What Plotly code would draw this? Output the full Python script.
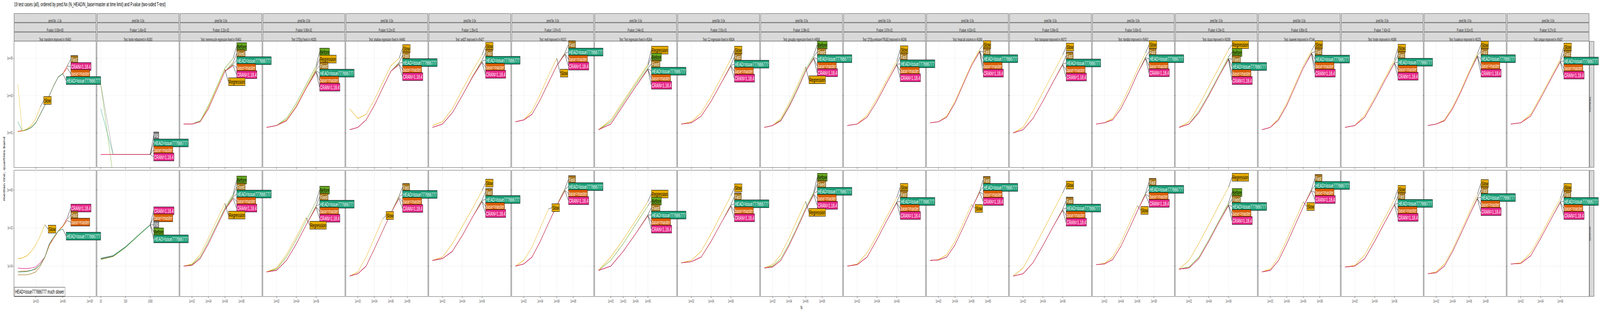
import math
import plotly.graph_objects as go
from plotly.subplots import make_subplots

TITLE = "19 test cases (all), ordered by pred.Nx (N_HEAD/N_base=master at time limit) and P.value (two-sided T-test)"

pred_nx = ["-1.3x"] + ["0.0x"] * 18
p_values = ["0.00e+00", "1.43e-02", "3.21e-02", "5.80e-02", "9.12e-02", "1.35e-01", "1.87e-01",
            "2.44e-01", "2.91e-01", "3.38e-01", "3.97e-01", "4.52e-01", "5.06e-01", "5.63e-01",
            "6.19e-01", "6.85e-01", "7.42e-01", "8.31e-01", "9.27e-01"]
tests = ["transform improved in #5493", "fwrite refactored in #6393",
         "memrecycle regression fixed in #5463", "DT[by] fixed in #4200",
         "shallow regression fixed in #4440", "setDT improved in #5427",
         "melt improved in #6101", "Test regression fixed in #5364",
         "CJ regression fixed in #5634", "groupby regression fixed in #4558",
         "DT[by,verbose=TRUE] improved in #6296", "fread all columns in #6360",
         "transpose improved in #6072", "rbindlist improved in #5463",
         "dcast improved in #6299", "isoweek improved in #7144",
         "forder improved in #4386", "fcoalesce improved in #6225",
         "unique improved in #5437"]

# N values per panel
N = [
    [10, 31.6, 100, 316, 1e3, 3.16e3, 1e4, 3.16e4, 1e5, 3.16e5, 1e6, 3.16e6],
    [10, 31.6, 100, 316, 1000],
    [10, 100, 1e3, 1e4, 1e5, 1e6, 1e7],
    [10, 100, 1e3, 1e4, 1e5, 1e6],
    [10, 100, 1e3, 1e4, 1e5, 1e6, 1e7],
    [10, 100, 1e3, 1e4, 1e5, 1e6],
    [10, 100, 1e3, 1e4, 1e5, 1e6, 1e7],
    [10, 100, 1e3, 1e4, 1e5],
    [10, 100, 1e3, 1e4, 1e5, 1e6],
    [10, 100, 1e3, 1e4, 1e5, 1e6, 1e7],
    [10, 100, 1e3, 1e4, 1e5, 1e6],
    [10, 100, 1e3, 1e4, 1e5, 1e6, 1e7],
    [10, 100, 1e3, 1e4, 1e5, 1e6],
    [10, 100, 1e3, 1e4, 1e5, 1e6, 1e7],
    [10, 100, 1e3, 1e4, 1e5, 1e6],
    [10, 100, 1e3, 1e4, 1e5, 1e6, 1e7],
    [10, 100, 1e3, 1e4, 1e5, 1e6],
    [10, 100, 1e3, 1e4, 1e5, 1e6, 1e7],
    [10, 100, 1e3, 1e4, 1e5, 1e6],
]

x_ticks = [
    [1e3, 1e6, 1e9], [10, 100, 1000], [1e2, 1e4, 1e6, 1e8], [1e2, 1e4, 1e6], [1e2, 1e4, 1e6, 1e8],
    [1e2, 1e4, 1e6], [1e2, 1e4, 1e6, 1e8], [1e2, 1e3, 1e4, 1e5], [1e2, 1e4, 1e6],
    [1e2, 1e4, 1e6, 1e8], [1e2, 1e4, 1e6], [1e2, 1e4, 1e6, 1e8], [1e2, 1e4, 1e6],
    [1e2, 1e4, 1e6, 1e8], [1e2, 1e4, 1e6], [1e2, 1e4, 1e6, 1e8], [1e2, 1e4, 1e6],
    [1e2, 1e4, 1e6, 1e8], [1e2, 1e4, 1e6],
]

kilobytes = [
    {"Fast": [12, 13, 15, 20, 35, 100, 300, 1000, 3500, 10000, 15000, 40000],
     "CRAN=1.18.4": [12, 13, 15, 20, 35, 100, 300, 1000, 3500, 10000, 15000, 38000],
     "base=master": [12, 13, 15, 20, 35, 100, 300, 1000, 3500, 10000, 15000, 30000],
     "HEAD=issue777666777": [40, 13, 15, 20, 35, 100, 300, 1000, 3500, 10000, 15000, None],
     "Slow": [4000, 13, 16, 25, 60, 250, None, None, None, None, None, None]},
    {"PR": [4000, 0.7, 0.7, 0.7, 0.7],
     "HEAD=issue777666777": [200, 0.7, 0.7, 0.7, 0.7],
     "base=master": [0.7, 0.7, 0.7, 0.7, 0.7],
     "CRAN=1.18.4": [0.7, 0.7, 0.7, 0.7, 0.7],
     "Before": [4000, 0.05, 0.05, 0.05, 0.05]},
    {"Before": [30, 30, 45, 300, 3000, 30000, 100000],
     "Regression": [30, 30, 40, 250, 2500, 25000, None],
     "Fixed": [30, 30, 40, 200, 2000, 20000, 60000],
     "HEAD=issue777666777": [30, 30, 40, 200, 2000, 20000, 50000],
     "base=master": [30, 30, 40, 200, 2000, 20000, 45000],
     "CRAN=1.18.4": [30, 30, 40, 200, 2000, 20000, 40000]},
    {"Before": [20, 25, 60, 400, 4000, 40000],
     "Regression": [20, 25, 50, 300, 3000, 30000],
     "Fixed": [20, 25, 45, 250, 2500, 25000],
     "HEAD=issue777666777": [20, 25, 45, 250, 2500, 22000],
     "base=master": [20, 25, 45, 250, 2500, 20000],
     "CRAN=1.18.4": [20, 25, 45, 250, 2500, 18000]},
    {"Slow": [200, 60, 100, 600, 5000, 40000, 100000],
     "Fast": [15, 20, 50, 300, 2500, 20000, 60000],
     "HEAD=issue777666777": [15, 20, 50, 300, 2500, 20000, 55000],
     "base=master": [15, 20, 50, 300, 2500, 20000, 50000],
     "CRAN=1.18.4": [15, 20, 50, 300, 2500, 20000, 45000]},
    {"Slow": [25, 40, 200, 2000, 20000, 150000],
     "Fast": [20, 30, 120, 1000, 10000, 80000],
     "HEAD=issue777666777": [20, 30, 120, 1000, 9000, 70000],
     "base=master": [20, 30, 120, 1000, 9000, 65000],
     "CRAN=1.18.4": [20, 30, 120, 1000, 9000, 60000]},
    {"Slow": [40, 50, 150, 1200, 12000, 100000, None],
     "Fast": [40, 50, 100, 600, 5000, 40000, 200000],
     "HEAD=issue777666777": [40, 50, 100, 600, 5000, 40000, 180000],
     "base=master": [40, 50, 100, 600, 5000, 40000, 170000],
     "CRAN=1.18.4": [40, 50, 100, 600, 5000, 40000, 160000]},
    {"Before": [15, 40, 400, 4000, 40000],
     "Regression": [15, 50, 500, 5000, 50000],
     "Fixed": [15, 30, 300, 3000, 30000],
     "HEAD=issue777666777": [15, 30, 300, 3000, 28000],
     "base=master": [15, 30, 300, 3000, 26000],
     "CRAN=1.18.4": [15, 30, 300, 3000, 25000]},
    {"Slow": [30, 40, 120, 900, 9000, 90000],
     "Fast": [30, 35, 80, 500, 4500, 45000],
     "HEAD=issue777666777": [30, 35, 80, 500, 4500, 42000],
     "base=master": [30, 35, 80, 500, 4500, 40000],
     "CRAN=1.18.4": [30, 35, 80, 500, 4500, 38000]},
    {"Before": [20, 25, 50, 300, 2500, 25000, 150000],
     "Regression": [20, 25, 60, 400, 3500, 35000, None],
     "Fixed": [20, 25, 45, 250, 2000, 20000, 120000],
     "HEAD=issue777666777": [20, 25, 45, 250, 2000, 20000, 110000],
     "base=master": [20, 25, 45, 250, 2000, 20000, 100000],
     "CRAN=1.18.4": [20, 25, 45, 250, 2000, 20000, 95000]},
    {"Slow": [25, 30, 90, 700, 7000, 70000],
     "Fast": [25, 30, 70, 500, 5000, 50000],
     "HEAD=issue777666777": [25, 30, 70, 500, 5000, 48000],
     "base=master": [25, 30, 70, 500, 5000, 46000],
     "CRAN=1.18.4": [25, 30, 70, 500, 5000, 44000]},
    {"Slow": [35, 40, 80, 500, 5000, 50000, 300000],
     "Fast": [35, 40, 70, 400, 4000, 40000, 250000],
     "HEAD=issue777666777": [35, 40, 70, 400, 4000, 40000, 240000],
     "base=master": [35, 40, 70, 400, 4000, 40000, 230000],
     "CRAN=1.18.4": [35, 40, 70, 400, 4000, 40000, 220000]},
    {"Slow": [10, 20, 150, 1500, 15000, 150000],
     "Fast": [10, 15, 60, 500, 5000, 50000],
     "HEAD=issue777666777": [10, 15, 60, 500, 5000, 48000],
     "base=master": [10, 15, 60, 500, 5000, 46000],
     "CRAN=1.18.4": [10, 15, 60, 500, 5000, 44000]},
    {"Slow": [30, 35, 60, 300, 2500, 25000, 200000],
     "Fast": [30, 35, 50, 200, 1500, 15000, 120000],
     "HEAD=issue777666777": [30, 35, 50, 200, 1500, 15000, 110000],
     "base=master": [30, 35, 50, 200, 1500, 15000, 100000],
     "CRAN=1.18.4": [30, 35, 50, 200, 1500, 15000, 95000]},
    {"Regression": [20, 40, 300, 3000, 30000, 300000],
     "Before": [20, 30, 150, 1200, 12000, 120000],
     "Fixed": [20, 30, 120, 1000, 10000, 100000],
     "HEAD=issue777666777": [20, 30, 120, 1000, 10000, 95000],
     "base=master": [20, 30, 120, 1000, 10000, 90000],
     "CRAN=1.18.4": [20, 30, 120, 1000, 10000, 85000]},
    {"Slow": [15, 20, 60, 400, 4000, 40000, 250000],
     "Fast": [15, 20, 50, 300, 3000, 30000, 200000],
     "HEAD=issue777666777": [15, 20, 50, 300, 3000, 30000, 190000],
     "base=master": [15, 20, 50, 300, 3000, 30000, 180000],
     "CRAN=1.18.4": [15, 20, 50, 300, 3000, 30000, 170000]},
    {"Slow": [20, 25, 90, 800, 8000, 80000],
     "Fast": [20, 25, 70, 600, 6000, 60000],
     "HEAD=issue777666777": [20, 25, 70, 600, 6000, 58000],
     "base=master": [20, 25, 70, 600, 6000, 56000],
     "CRAN=1.18.4": [20, 25, 70, 600, 6000, 54000]},
    {"Slow": [25, 30, 50, 250, 2000, 20000, 180000],
     "Fast": [25, 30, 45, 200, 1600, 16000, 150000],
     "HEAD=issue777666777": [25, 30, 45, 200, 1600, 16000, 140000],
     "base=master": [25, 30, 45, 200, 1600, 16000, 130000],
     "CRAN=1.18.4": [25, 30, 45, 200, 1600, 16000, 120000]},
    {"Slow": [30, 35, 100, 900, 9000, 90000],
     "Fast": [30, 35, 80, 700, 7000, 70000],
     "HEAD=issue777666777": [30, 35, 80, 700, 7000, 68000],
     "base=master": [30, 35, 80, 700, 7000, 66000],
     "CRAN=1.18.4": [30, 35, 80, 700, 7000, 64000]},
]

seconds = [
    {"CRAN=1.18.4": [8e-5, 7.5e-5, 7.5e-5, 8e-5, 9e-5, 1.5e-4, 3e-4, 1.5e-3, 3e-3, 7e-3, 1.3e-2, 3.5e-2],
     "Fast": [3.5e-5, 3.5e-5, 3.5e-5, 4e-5, 5e-5, 1e-4, 2.8e-4, 1.2e-3, 3e-3, 7e-3, 1.3e-2, 3e-2],
     "base=master": [5e-5, 5.5e-5, 5.5e-5, 6e-5, 7e-5, 1.2e-4, 3e-4, 1.3e-3, 3e-3, 7e-3, 1.2e-2, 2.5e-2],
     "Slow": [2.5e-4, 2.7e-4, 3.5e-4, 6e-4, 1.3e-3, 4e-3, 1.5e-2, None, None, None, None, None],
     "HEAD=issue777666777": [5e-5, 5e-5, 5.2e-5, 6e-5, 7.5e-5, 1.2e-4, 3e-4, 1.5e-3, 3.5e-3, 7e-3, 9e-3, None]},
    {"CRAN=1.18.4": [2.4e-4, 3.3e-4, 1e-3, 4e-3, 1.5e-2],
     "base=master": [2.5e-4, 3.5e-4, 1e-3, 4e-3, 1.5e-2],
     "PR": [2.6e-4, 3.6e-4, 1.05e-3, 4e-3, 1.5e-2],
     "Before": [2.2e-4, 3.2e-4, 0.95e-3, 3.8e-3, 1.45e-2],
     "HEAD=issue777666777": [2.5e-4, 3.5e-4, 1e-3, 4e-3, 1.45e-2]},
    {"Before": [1e-4, 1.2e-4, 3e-4, 2e-3, 1.5e-2, 1.2e-1, 6e-1],
     "Regression": [1e-4, 1.3e-4, 4e-4, 3e-3, 2.5e-2, 2e-1, None],
     "Fixed": [1e-4, 1.1e-4, 2.5e-4, 1.5e-3, 1.2e-2, 1e-1, 5e-1],
     "HEAD=issue777666777": [1e-4, 1.1e-4, 2.5e-4, 1.5e-3, 1.2e-2, 9e-2, 4.5e-1],
     "base=master": [1e-4, 1.1e-4, 2.5e-4, 1.5e-3, 1.2e-2, 9e-2, 4e-1],
     "CRAN=1.18.4": [1e-4, 1.1e-4, 2.5e-4, 1.5e-3, 1.2e-2, 9e-2, 3.5e-1]},
    {"Before": [5e-5, 7e-5, 3e-4, 2.5e-3, 2.5e-2, 2.5e-1],
     "Regression": [5e-5, 8e-5, 4e-4, 3.5e-3, 3.5e-2, None],
     "Fixed": [5e-5, 6e-5, 2e-4, 1.5e-3, 1.5e-2, 1.5e-1],
     "HEAD=issue777666777": [5e-5, 6e-5, 2e-4, 1.5e-3, 1.5e-2, 1.4e-1],
     "base=master": [5e-5, 6e-5, 2e-4, 1.5e-3, 1.5e-2, 1.3e-1],
     "CRAN=1.18.4": [5e-5, 6e-5, 2e-4, 1.5e-3, 1.5e-2, 1.2e-1]},
    {"Slow": [3e-5, 5e-5, 3e-4, 3e-3, 3e-2, None, None],
     "Fast": [3e-5, 4e-5, 1e-4, 8e-4, 7e-3, 6e-2, 5e-1],
     "HEAD=issue777666777": [3e-5, 4e-5, 1e-4, 8e-4, 7e-3, 6e-2, 4.5e-1],
     "base=master": [3e-5, 4e-5, 1e-4, 8e-4, 7e-3, 6e-2, 4e-1],
     "CRAN=1.18.4": [3e-5, 4e-5, 1e-4, 8e-4, 7e-3, 6e-2, 3.5e-1]},
    {"Slow": [2e-4, 3e-4, 1.5e-3, 1.2e-2, 1e-1, 9e-1],
     "Fast": [2e-4, 2.5e-4, 6e-4, 4e-3, 3.5e-2, 3e-1],
     "HEAD=issue777666777": [2e-4, 2.5e-4, 6e-4, 4e-3, 3.5e-2, 2.8e-1],
     "base=master": [2e-4, 2.5e-4, 6e-4, 4e-3, 3.5e-2, 2.6e-1],
     "CRAN=1.18.4": [2e-4, 2.5e-4, 6e-4, 4e-3, 3.5e-2, 2.4e-1]},
    {"Slow": [1e-4, 2e-4, 1e-3, 1e-2, 1e-1, None, None],
     "Fast": [1e-4, 1.3e-4, 3e-4, 2e-3, 1.8e-2, 1.6e-1, 1.2],
     "HEAD=issue777666777": [1e-4, 1.3e-4, 3e-4, 2e-3, 1.8e-2, 1.5e-1, 1.1],
     "base=master": [1e-4, 1.3e-4, 3e-4, 2e-3, 1.8e-2, 1.5e-1, 1.0],
     "CRAN=1.18.4": [1e-4, 1.3e-4, 3e-4, 2e-3, 1.8e-2, 1.5e-1, 9e-1]},
    {"Before": [6e-5, 2e-4, 1.5e-3, 1.5e-2, 1.5e-1],
     "Regression": [6e-5, 3e-4, 2.5e-3, 2.5e-2, 2.5e-1],
     "Fixed": [6e-5, 1e-4, 6e-4, 5e-3, 5e-2],
     "HEAD=issue777666777": [6e-5, 1e-4, 6e-4, 5e-3, 4.8e-2],
     "base=master": [6e-5, 1e-4, 6e-4, 5e-3, 4.6e-2],
     "CRAN=1.18.4": [6e-5, 1e-4, 6e-4, 5e-3, 4.4e-2]},
    {"Slow": [1.5e-4, 2e-4, 6e-4, 5e-3, 5e-2, 5e-1],
     "Fast": [1.5e-4, 1.7e-4, 3e-4, 2e-3, 1.8e-2, 1.7e-1],
     "HEAD=issue777666777": [1.5e-4, 1.7e-4, 3e-4, 2e-3, 1.8e-2, 1.6e-1],
     "base=master": [1.5e-4, 1.7e-4, 3e-4, 2e-3, 1.8e-2, 1.5e-1],
     "CRAN=1.18.4": [1.5e-4, 1.7e-4, 3e-4, 2e-3, 1.8e-2, 1.4e-1]},
    {"Before": [8e-5, 1e-4, 2.5e-4, 1.5e-3, 1.2e-2, 1.1e-1, 8e-1],
     "Regression": [8e-5, 1.2e-4, 4e-4, 3e-3, 2.8e-2, 2.5e-1, None],
     "Fixed": [8e-5, 9e-5, 2e-4, 1.2e-3, 1e-2, 9e-2, 7e-1],
     "HEAD=issue777666777": [8e-5, 9e-5, 2e-4, 1.2e-3, 1e-2, 9e-2, 6.5e-1],
     "base=master": [8e-5, 9e-5, 2e-4, 1.2e-3, 1e-2, 9e-2, 6e-1],
     "CRAN=1.18.4": [8e-5, 9e-5, 2e-4, 1.2e-3, 1e-2, 9e-2, 5.5e-1]},
    {"Slow": [1e-4, 1.3e-4, 5e-4, 4e-3, 4e-2, 4e-1],
     "Fast": [1e-4, 1.2e-4, 3e-4, 2.5e-3, 2.5e-2, 2.4e-1],
     "HEAD=issue777666777": [1e-4, 1.2e-4, 3e-4, 2.5e-3, 2.5e-2, 2.3e-1],
     "base=master": [1e-4, 1.2e-4, 3e-4, 2.5e-3, 2.5e-2, 2.2e-1],
     "CRAN=1.18.4": [1e-4, 1.2e-4, 3e-4, 2.5e-3, 2.5e-2, 2.1e-1]},
    {"Slow": [2e-4, 2.2e-4, 4e-4, 2e-3, 1.8e-2, 1.7e-1, None],
     "Fast": [2e-4, 2.1e-4, 3e-4, 1.3e-3, 1.1e-2, 1e-1, 9e-1],
     "HEAD=issue777666777": [2e-4, 2.1e-4, 3e-4, 1.3e-3, 1.1e-2, 1e-1, 8.5e-1],
     "base=master": [2e-4, 2.1e-4, 3e-4, 1.3e-3, 1.1e-2, 1e-1, 8e-1],
     "CRAN=1.18.4": [2e-4, 2.1e-4, 3e-4, 1.3e-3, 1.1e-2, 1e-1, 7.5e-1]},
    {"Slow": [3e-5, 8e-5, 7e-4, 7e-3, 7e-2, 7e-1],
     "Fast": [3e-5, 4e-5, 1.5e-4, 1.2e-3, 1.1e-2, 1e-1],
     "HEAD=issue777666777": [3e-5, 4e-5, 1.5e-4, 1.2e-3, 1.1e-2, 9.5e-2],
     "base=master": [3e-5, 4e-5, 1.5e-4, 1.2e-3, 1.1e-2, 9e-2],
     "CRAN=1.18.4": [3e-5, 4e-5, 1.5e-4, 1.2e-3, 1.1e-2, 8.5e-2]},
    {"Slow": [1.2e-4, 1.4e-4, 3e-4, 1.8e-3, 1.6e-2, 1.5e-1, None],
     "Fast": [1.2e-4, 1.3e-4, 2.2e-4, 1.1e-3, 9e-3, 8e-2, 7e-1],
     "HEAD=issue777666777": [1.2e-4, 1.3e-4, 2.2e-4, 1.1e-3, 9e-3, 8e-2, 6.5e-1],
     "base=master": [1.2e-4, 1.3e-4, 2.2e-4, 1.1e-3, 9e-3, 8e-2, 6e-1],
     "CRAN=1.18.4": [1.2e-4, 1.3e-4, 2.2e-4, 1.1e-3, 9e-3, 8e-2, 5.5e-1]},
    {"Regression": [7e-5, 2e-4, 1.6e-3, 1.5e-2, 1.5e-1, 1.4],
     "Before": [7e-5, 9e-5, 3e-4, 2.4e-3, 2.3e-2, 2.2e-1],
     "Fixed": [7e-5, 8e-5, 2.5e-4, 2e-3, 1.9e-2, 1.8e-1],
     "HEAD=issue777666777": [7e-5, 8e-5, 2.5e-4, 2e-3, 1.9e-2, 1.7e-1],
     "base=master": [7e-5, 8e-5, 2.5e-4, 2e-3, 1.9e-2, 1.6e-1],
     "CRAN=1.18.4": [7e-5, 8e-5, 2.5e-4, 2e-3, 1.9e-2, 1.5e-1]},
    {"Slow": [5e-5, 7e-5, 3e-4, 2.5e-3, 2.5e-2, 2.4e-1, None],
     "Fast": [5e-5, 6e-5, 2e-4, 1.5e-3, 1.4e-2, 1.3e-1, 1.1],
     "HEAD=issue777666777": [5e-5, 6e-5, 2e-4, 1.5e-3, 1.4e-2, 1.3e-1, 1.0],
     "base=master": [5e-5, 6e-5, 2e-4, 1.5e-3, 1.4e-2, 1.3e-1, 9.5e-1],
     "CRAN=1.18.4": [5e-5, 6e-5, 2e-4, 1.5e-3, 1.4e-2, 1.3e-1, 9e-1]},
    {"Slow": [9e-5, 1.1e-4, 4e-4, 3.5e-3, 3.3e-2, 3.2e-1],
     "Fast": [9e-5, 1e-4, 2.5e-4, 2e-3, 1.9e-2, 1.8e-1],
     "HEAD=issue777666777": [9e-5, 1e-4, 2.5e-4, 2e-3, 1.9e-2, 1.75e-1],
     "base=master": [9e-5, 1e-4, 2.5e-4, 2e-3, 1.9e-2, 1.7e-1],
     "CRAN=1.18.4": [9e-5, 1e-4, 2.5e-4, 2e-3, 1.9e-2, 1.65e-1]},
    {"Slow": [4e-5, 5e-5, 1.3e-4, 8e-4, 7e-3, 6.5e-2, 6e-1],
     "Fast": [4e-5, 4.5e-5, 1e-4, 6e-4, 5e-3, 4.5e-2, 4e-1],
     "HEAD=issue777666777": [4e-5, 4.5e-5, 1e-4, 6e-4, 5e-3, 4.5e-2, 3.8e-1],
     "base=master": [4e-5, 4.5e-5, 1e-4, 6e-4, 5e-3, 4.5e-2, 3.6e-1],
     "CRAN=1.18.4": [4e-5, 4.5e-5, 1e-4, 6e-4, 5e-3, 4.5e-2, 3.4e-1]},
    {"Slow": [1.3e-4, 1.5e-4, 5e-4, 4e-3, 3.8e-2, 3.6e-1],
     "Fast": [1.3e-4, 1.4e-4, 3.5e-4, 2.8e-3, 2.6e-2, 2.5e-1],
     "HEAD=issue777666777": [1.3e-4, 1.4e-4, 3.5e-4, 2.8e-3, 2.6e-2, 2.4e-1],
     "base=master": [1.3e-4, 1.4e-4, 3.5e-4, 2.8e-3, 2.6e-2, 2.3e-1],
     "CRAN=1.18.4": [1.3e-4, 1.4e-4, 3.5e-4, 2.8e-3, 2.6e-2, 2.2e-1]},
]

row_labels = ["kilobytes", "seconds"]
y_ranges = [[-0.84, 5.91], [-5.59, 1.03]]
y_ticks = [[1e1, 1e3, 1e5], [1e-4, 1e-2, 1e0]]

colors = {"HEAD=issue777666777": "#1B9E77", "base=master": "#D95F02", "CRAN=1.18.4": "#E7298A",
          "Before": "#66A61E", "Regression": "#E6AB02", "Slow": "#E6AB02",
          "Fixed": "#A6761D", "Fast": "#A6761D", "PR": "#7F7F7F"}
text_colors = {"Slow": "black", "Regression": "black", "Before": "black"}

W, H = 7600, 800
ML, MR, MT, MB = 67, 52, 106, 40
ncol = 19
FONT = "Liberation Sans Narrow, Liberation Sans, Arial"

fig = make_subplots(rows=2, cols=ncol, horizontal_spacing=5 / (W - ML - MR),
                    vertical_spacing=8 / (H - MT - MB), shared_yaxes=False)

plot_h = (H - MT - MB - 8) / 2
annotations = []


def sci(v):
    e = int(round(math.log10(v)))
    return f"1e{'+' if e >= 0 else '-'}{abs(e):02d}"


for c in range(ncol):
    n = N[c]
    lo, hi = math.log10(min(n)), math.log10(max(n))
    s = hi - lo
    xr = [lo - 0.075 * s, hi + 0.58 * s]
    if max(x_ticks[c]) <= 1000:
        ttext = [str(int(v)) for v in x_ticks[c]]
    else:
        ttext = [sci(v) for v in x_ticks[c]]
    for r, data in enumerate([kilobytes[c], seconds[c]]):
        row = r + 1
        idx = r * ncol + c + 1
        xref = "x" if idx == 1 else f"x{idx}"
        yref = "y" if idx == 1 else f"y{idx}"
        if r == 1:
            fig.add_shape(type="line", x0=0, x1=1, xref=f"{xref} domain",
                          y0=-2, y1=-2, yref=yref, line=dict(color="#A8A8A8", width=1.5), layer="below")
        labels = []
        for name, vals in data.items():
            xs = [x for x, v in zip(n, vals) if v is not None]
            ys = [v for v in vals if v is not None]
            fig.add_trace(go.Scatter(x=xs, y=ys, mode="lines", line=dict(color=colors[name], width=1.3),
                                     showlegend=False, hoverinfo="skip"), row=row, col=c + 1)
            labels.append((name, xs[-1], ys[-1]))
        yr = y_ranges[r]
        ppu = plot_h / (yr[1] - yr[0])
        items = sorted(labels, key=lambda t: -math.log10(t[2]))
        pix = [(yr[1] - math.log10(t[2])) * ppu for t in items]
        target = []
        gap = 18
        for i, p in enumerate(pix):
            tp = p if i == 0 else max(p, target[-1] + gap)
            target.append(tp)
        shift = (sum(pix) - sum(target)) / len(target)
        target = [t + shift for t in target]
        if target[0] < 9:
            target = [t + (9 - target[0]) for t in target]
        if target[-1] > plot_h - 9:
            d = target[-1] - (plot_h - 9)
            target = [t - d for t in target]
        for (name, lx, ly), tp, pp in zip(items, target, pix):
            annotations.append(dict(
                x=math.log10(lx), y=math.log10(ly), xref=xref, yref=yref,
                text=name, showarrow=True, arrowhead=0, arrowwidth=1, arrowcolor="black",
                ax=16, ay=tp - pp, xanchor="left", yanchor="middle",
                bgcolor=colors[name], bordercolor="black", borderwidth=1, borderpad=1,
                font=dict(size=15, color=text_colors.get(name, "white"), family=FONT)))
        fig.update_xaxes(type="log", range=xr, tickvals=x_ticks[c], ticktext=ttext,
                         showticklabels=(r == 1), row=row, col=c + 1)
        fig.update_yaxes(type="log", range=yr, tickvals=y_ticks[r],
                         ticktext=[sci(v) for v in y_ticks[r]],
                         showticklabels=(c == 0), row=row, col=c + 1)

fig.update_xaxes(showline=True, mirror=True, linecolor="#333333", gridcolor="#EBEBEB",
                 ticks="outside", ticklen=3, tickcolor="#333333", zeroline=False,
                 tickfont=dict(size=10, color="#4D4D4D", family=FONT))
fig.update_yaxes(showline=True, mirror=True, linecolor="#333333", gridcolor="#EBEBEB",
                 ticks="outside", ticklen=3, tickcolor="#333333", zeroline=False,
                 tickfont=dict(size=10, color="#4D4D4D", family=FONT))

strip_h = 24 / (H - MT - MB)
for c in range(ncol):
    xr_ = "x domain" if c == 0 else f"x{c + 1} domain"
    texts = [f"pred.Nx: {pred_nx[c]}", f"P.value: {p_values[c]}", f"Test: {tests[c]}"]
    for k, t in enumerate(texts):
        y1 = 1 + (3 - k) * strip_h
        y0 = y1 - strip_h
        fig.add_shape(type="rect", xref=xr_, yref="paper", x0=0, x1=1, y0=y0 + 0.001, y1=y1 - 0.001,
                      fillcolor="#D9D9D9", line=dict(color="#333333", width=1))
        annotations.append(dict(xref=xr_, yref="paper", x=0.5, y=(y0 + y1) / 2, text=t,
                                showarrow=False, font=dict(size=10, color="#1A1A1A", family=FONT)))
for r in range(2):
    yd = "y domain" if r == 0 else f"y{ncol + 1} domain"
    xd = f"x{ncol} domain" if r == 0 else f"x{2 * ncol} domain"
    fig.add_shape(type="rect", xref=xd, yref=yd, x0=1.005, x1=1.06, y0=0, y1=1,
                  fillcolor="#D9D9D9", line=dict(color="#333333", width=1))
    annotations.append(dict(xref=xd, yref=yd, x=1.0325, y=0.5, text=row_labels[r], textangle=90,
                            showarrow=False, font=dict(size=10, color="#1A1A1A", family=FONT)))

annotations.append(dict(xref="x20 domain", yref="y20 domain", x=0.003, y=0.0,
                        xanchor="left", yanchor="bottom", text="HEAD=issue777666777 much slower",
                        showarrow=False, bgcolor="white", bordercolor="#333333", borderwidth=1,
                        borderpad=3, font=dict(size=14, color="black", family=FONT)))
annotations.append(dict(xref="paper", yref="paper", x=0.5, y=-38 / (H - MT - MB), text="N",
                        showarrow=False, font=dict(size=12, color="black", family=FONT)))
annotations.append(dict(xref="paper", yref="paper", x=-55 / (W - ML - MR), y=0.5,
                        text="median line, quartiles band", textangle=-90, showarrow=False,
                        font=dict(size=12, color="black", family="DejaVu Sans")))

fig.update_layout(width=W, height=H, margin=dict(l=ML, r=MR, t=MT, b=MB),
                  plot_bgcolor="white", paper_bgcolor="white", annotations=annotations,
                  title=dict(text=TITLE, x=ML / W, xanchor="left", y=1 - 6 / H, yanchor="top",
                             font=dict(size=15, color="black", family=FONT)))

fit_js = ("document.body.style.margin='0';document.body.style.overflow='hidden';"
          "var d=document.getElementById('{plot_id}');"
          "var s=window.innerWidth/7600;"
          "if(s<1){d.style.transform='scale('+s+',1)';d.style.transformOrigin='0 0';}")
fig.write_html("out.html", post_script=fit_js, config={"displayModeBar": False})
